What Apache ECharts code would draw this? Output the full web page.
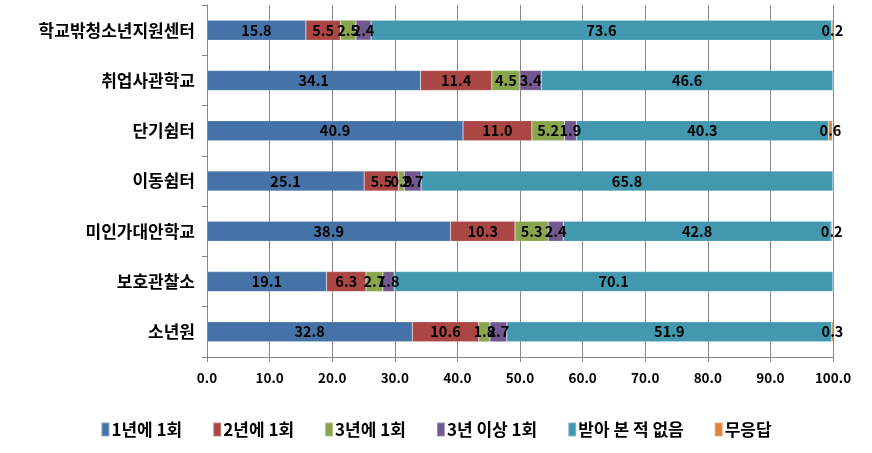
<!DOCTYPE html>
<html>
<head>
    <meta charset="utf-8">
    <title>ECharts</title>
    <script src="https://cdn.jsdelivr.net/npm/echarts@6/dist/echarts.min.js"></script>
</head>
<body style="margin:0">
    <div id="main" style="width:872px;height:453px"></div>
    <script type="text/javascript">
    // 기관 (위에서 아래 순서)
    var places = ['학교밖청소년지원센터', '취업사관학교', '단기쉼터', '이동쉼터', '미인가대안학교', '보호관찰소', '소년원'];
    var seriesNames = ['1년에 1회', '2년에 1회', '3년에 1회', '3년 이상 1회', '받아 본 적 없음', '무응답'];
    var onceYear   = [15.8, 34.1, 40.9, 25.1, 38.9, 19.1, 32.8];
    var twoYears   = [5.5, 11.4, 11.0, 5.5, 10.3, 6.3, 10.6];
    var threeYears = [2.5, 4.5, 5.2, 0.9, 5.3, 2.7, 1.8];
    var overThree  = [2.4, 3.4, 1.9, 2.7, 2.4, 1.8, 2.7];
    var never      = [73.6, 46.6, 40.3, 65.8, 42.8, 70.1, 51.9];
    var noAnswer   = [0.2, 0, 0.6, 0, 0.2, 0, 0.3];
    var colors = ['#4572A7', '#AA4643', '#89A54E', '#71588F', '#4198AF', '#DB843D'];

    var font = 'Noto Sans CJK KR';
    var allData = [onceYear, twoYears, threeYears, overThree, never, noAnswer];
    var series = [];
    for (var i = 0; i < allData.length; i++) {
        series.push({
            name: seriesNames[i],
            type: 'bar',
            stack: 'total',
            barWidth: 20,
            itemStyle: { color: colors[i], borderColor: 'rgba(255,255,255,0.35)', borderWidth: 0.5 },
            label: {
                show: true,
                position: 'inside',
                color: '#000',
                fontWeight: 'bold',
                fontSize: 14.5,
                fontFamily: font,
                formatter: function (p) { return p.value > 0 ? p.value.toFixed(1) : ''; }
            },
            data: allData[i]
        });
    }

    var myChart = echarts.init(document.getElementById('main'));
    myChart.setOption({
        animation: false,
        grid: { left: 207, right: 39, top: 5, bottom: 96 },
        legend: {
            bottom: 10,
            left: 'center',
            itemWidth: 8,
            itemHeight: 14,
            itemGap: 30,
            icon: 'rect',
            textStyle: { fontSize: 17, fontWeight: 'bold', color: '#000', fontFamily: font, padding: [0, 0, 0, -3] },
            data: seriesNames
        },
        xAxis: {
            type: 'value',
            min: 0,
            max: 100,
            interval: 10,
            axisLine: { show: true, lineStyle: { color: '#868686' } },
            axisTick: { show: true, length: 5, lineStyle: { color: '#868686' } },
            splitLine: { show: true, lineStyle: { color: '#868686', width: 1 } },
            axisLabel: {
                margin: 14,
                color: '#000',
                fontWeight: 'bold',
                fontSize: 13.5,
                fontFamily: font,
                formatter: function (v) { return v.toFixed(1); }
            }
        },
        yAxis: {
            type: 'category',
            inverse: true,
            data: places,
            axisLine: { show: true, lineStyle: { color: '#868686' } },
            axisTick: { show: true, length: 5, lineStyle: { color: '#868686' } },
            axisLabel: {
                margin: 12,
                color: '#000',
                fontWeight: 'bold',
                fontSize: 17,
                fontFamily: font
            }
        },
        series: series
    });
    </script>
</body>
</html>
